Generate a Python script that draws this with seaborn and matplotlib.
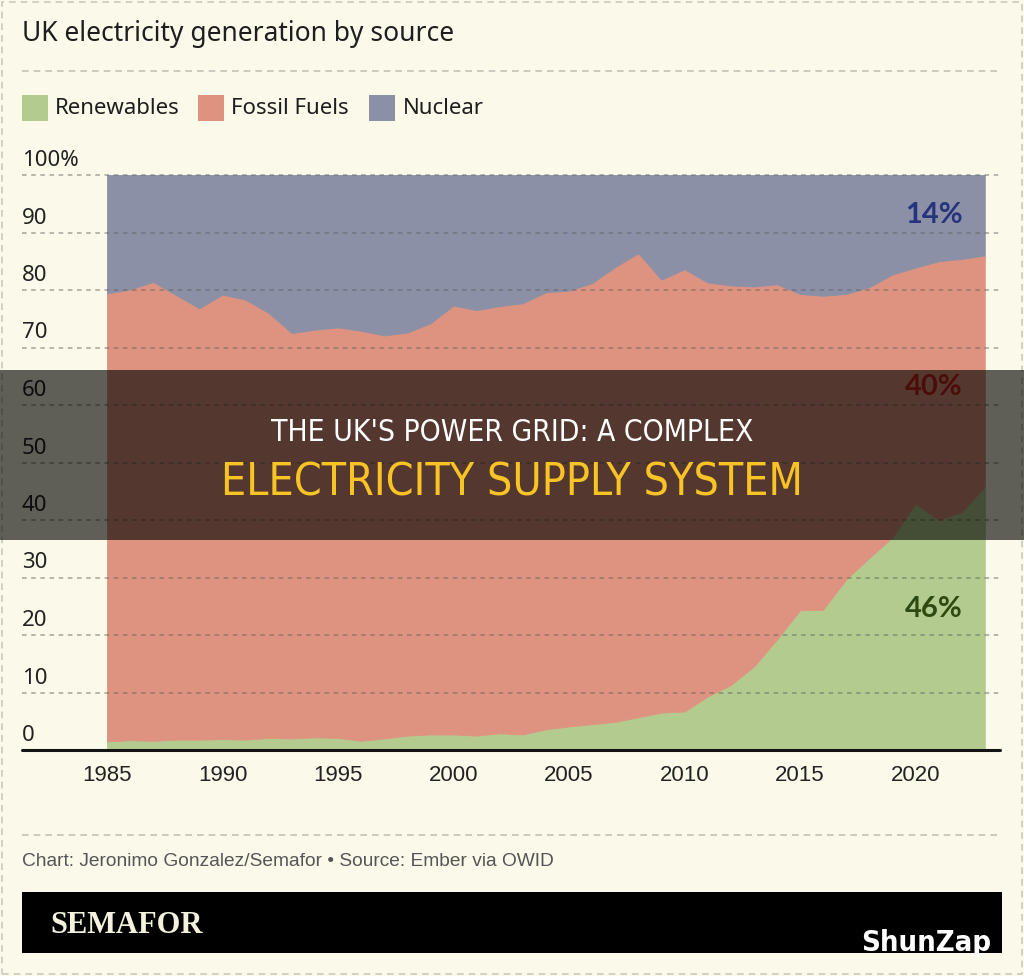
import numpy as np
import pandas as pd
import matplotlib.pyplot as plt
import seaborn as sns
from matplotlib.patches import Rectangle
from matplotlib.lines import Line2D

# shares of UK electricity generation, %
years = list(range(1985, 2024))
renewables = [1.5, 1.7, 1.6, 1.8, 1.8, 1.9, 1.8, 2.1, 2.0, 2.2,
              2.1, 1.6, 2.0, 2.5, 2.7, 2.7, 2.5, 2.9, 2.7, 3.6,
              4.1, 4.5, 4.9, 5.7, 6.5, 6.7, 9.3, 11.3, 14.5, 19.2,
              24.3, 24.4, 29.7, 33.4, 37.0, 42.9, 40.0, 41.4, 45.8]
fossil = [77.9, 78.4, 79.8, 77.3, 75.0, 77.3, 76.5, 73.9, 70.5, 70.9,
          71.4, 71.3, 70.1, 70.1, 71.5, 74.6, 74.0, 74.3, 75.0, 76.0,
          75.8, 76.7, 79.1, 80.7, 75.3, 76.9, 72.0, 69.5, 66.1, 61.8,
          55.0, 54.6, 49.6, 47.1, 45.7, 41.0, 45.0, 44.0, 40.2]
nuclear = [20.6, 19.9, 18.6, 20.9, 23.2, 20.8, 21.7, 24.0, 27.5, 26.9,
           26.5, 27.1, 27.9, 27.4, 25.8, 22.7, 23.5, 22.8, 22.3, 20.4,
           20.1, 18.8, 16.0, 13.6, 18.2, 16.4, 18.7, 19.2, 19.4, 19.0,
           20.7, 21.0, 20.7, 19.5, 17.3, 16.1, 15.0, 14.6, 14.0]

sources = ['Renewables', 'Fossil Fuels', 'Nuclear']
end_labels = ['46%', '40%', '14%']
yticks = [0, 10, 20, 30, 40, 50, 60, 70, 80, 90, 100]
ytick_labels = ['0', '10', '20', '30', '40', '50', '60', '70', '80', '90', '100%']
xticks = [1985, 1990, 1995, 2000, 2005, 2010, 2015, 2020]

BG = '#FBF9E9'
colors = ['#B4CB8F', '#DE9380', '#8B90A6']
label_colors = ['#2E4A12', '#C42418', '#27337C']

df = pd.DataFrame({'year': years, 'Renewables': renewables,
                   'Fossil Fuels': fossil, 'Nuclear': nuclear})

sns.set_theme(style='white', rc={'figure.facecolor': BG, 'axes.facecolor': 'none'})
plt.rcParams['font.family'] = ['Noto Sans', 'DejaVu Sans']

W, H = 1024, 976
def fx(x):
    return x / W
def fy(y):
    return 1 - y / H

fig = plt.figure(figsize=(W / 100, H / 100), dpi=100)
ax = fig.add_axes([fx(22), fy(750), 978 / W, 575 / H])

ax.stackplot(df['year'], *[df[s] for s in sources], colors=colors,
             edgecolor='face', linewidth=0.6, zorder=1)

for v in yticks[1:]:
    ax.axhline(v, color='#5e5e5e', lw=1.1, ls=(0, (3, 3)), alpha=0.55, zorder=3, clip_on=False)
ax.axhline(0, color='#141414', lw=2.2, zorder=4, clip_on=False)

ax.set_xlim(1985 - 85 / 23.1, 1985 + 893 / 23.1)
ax.set_ylim(0, 100)
ax.set_yticks([])
ax.set_xticks(xticks)
ax.set_xticklabels([str(t) for t in xticks], fontfamily='Liberation Sans')
ax.tick_params(axis='x', length=0, pad=11, labelsize=16, labelcolor='#222222')
ax.grid(False)
sns.despine(ax=ax, left=True, bottom=True)

for v, lab in zip(yticks, ytick_labels):
    ax.annotate(lab, xy=(0, v), xycoords=ax.get_yaxis_transform(),
                xytext=(0, 9), textcoords='offset pixels',
                ha='left', va='baseline', fontsize=16, color='#222222',
                annotation_clip=False)

# end-of-series share labels
label_pos = [24.5, 63.1, 93.0]
for lab, c, yv in zip(end_labels, label_colors, label_pos):
    ax.text(2020.8, yv, lab, ha='center', va='center', fontsize=21,
            fontweight='bold', fontfamily=['Lato', 'DejaVu Sans'], color=c, zorder=5)

# title and legend
fig.text(fx(22), fy(41.5), 'UK electricity generation by source',
         fontsize=19, color='#1e1e1e', va='baseline')
fig.add_artist(Line2D([fx(22), fx(1000)], [fy(70.5)] * 2, transform=fig.transFigure,
                      color='#c2c2b8', lw=1.2, ls=(0, (4, 3))))

for name, c, sx, tx in zip(sources, colors, [22, 198, 369], [55, 231, 403]):
    fig.add_artist(Rectangle((fx(sx), fy(121)), 26 / W, 26 / H,
                             transform=fig.transFigure, fc=c, ec='none'))
    fig.text(fx(tx), fy(114), name, fontsize=16, color='#1e1e1e', va='baseline')

# footer
fig.add_artist(Line2D([fx(22), fx(1000)], [fy(835)] * 2, transform=fig.transFigure,
                      color='#c2c2b8', lw=1.2, ls=(0, (4, 3))))
fig.text(fx(22), fy(866), 'Chart: Jeronimo Gonzalez/Semafor \u2022 Source: Ember via OWID',
         fontsize=13.8, color='#555555', va='baseline', fontfamily='Liberation Sans')
fig.add_artist(Rectangle((fx(22), fy(953)), 980 / W, 61 / H,
                         transform=fig.transFigure, fc='black', ec='none'))
fig.text(fx(50), fy(933), 'SEMAFOR', fontsize=22, fontweight='bold',
         fontfamily='Liberation Serif', color='#F4F1DE', va='baseline')
fig.text(fx(991), fy(951), 'ShunZap', fontsize=21, fontweight='bold',
         fontfamily='DejaVu Sans', fontstretch='condensed', color='white',
         ha='right', va='baseline', zorder=12)

# outer dashed frame
fig.add_artist(Rectangle((fx(2), fy(974)), 1020 / W, 972 / H, transform=fig.transFigure,
                         fill=False, ec='#c9c9c0', lw=1.2, ls=(0, (4, 3))))

# dark headline band across the middle
fig.add_artist(Rectangle((0, fy(540)), 1, 170 / H, transform=fig.transFigure,
                         fc='black', alpha=0.62, ec='none', zorder=10))
fig.text(0.5, fy(433), "THE UK'S POWER GRID: A COMPLEX", ha='center', va='center',
         fontsize=21.5, color='white', fontfamily='DejaVu Sans', fontstretch='condensed',
         zorder=11)
fig.text(0.5, fy(483), 'ELECTRICITY SUPPLY SYSTEM', ha='center', va='center',
         fontsize=32, color='#F7C325', fontfamily='DejaVu Sans', fontstretch='condensed',
         zorder=11)

fig.savefig('out.png', dpi=100, facecolor=BG)
